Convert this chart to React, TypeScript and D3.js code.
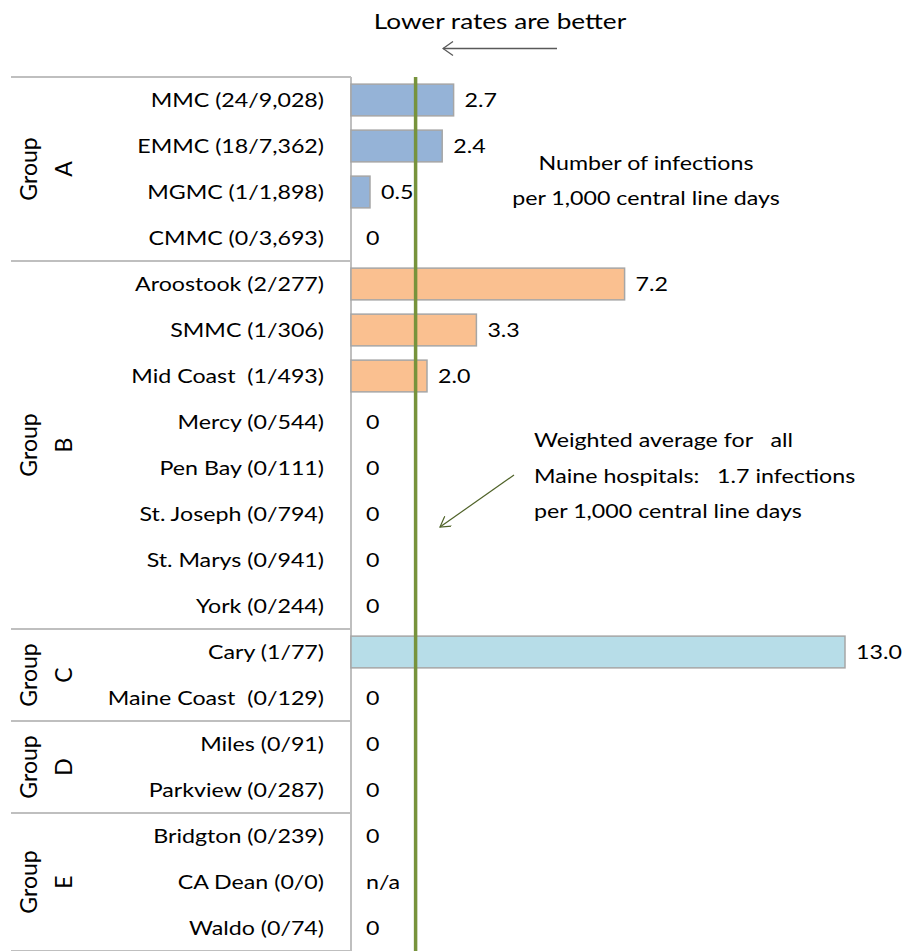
import React from 'react';
import * as d3 from 'd3';

const hospitals = [
  'MMC (24/9,028)', 'EMMC (18/7,362)', 'MGMC (1/1,898)', 'CMMC (0/3,693)',
  'Aroostook (2/277)', 'SMMC (1/306)', 'Mid Coast  (1/493)', 'Mercy (0/544)',
  'Pen Bay (0/111)', 'St. Joseph (0/794)', 'St. Marys (0/941)', 'York (0/244)',
  'Cary (1/77)', 'Maine Coast  (0/129)', 'Miles (0/91)', 'Parkview (0/287)',
  'Bridgton (0/239)', 'CA Dean (0/0)', 'Waldo (0/74)'
];
const rates: (number | null)[] = [
  2.7, 2.4, 0.5, 0,
  7.2, 3.3, 2.0, 0, 0, 0, 0, 0,
  13.0, 0,
  0, 0,
  0, null, 0
];
const groupNames = ['A', 'B', 'C', 'D', 'E'];
const groupSizes = [4, 8, 2, 2, 3];
const groupColors = ['#95b3d7', '#fac090', '#b7dde8', '#b7dde8', '#b7dde8'];
const average = 1.7;

const W = 911;
const H = 951;
const font = 'Lato, "Open Sans", sans-serif';
const SX = 1.19; // reference text is a bit wide, stretch glyphs horizontally

// text stretched horizontally around its anchor point
const T = ({ x, y, size = 19.5, anchor = 'start', dy = '0', children }: any) => (
  <text transform={`translate(${x},${y}) scale(${SX},1)`} textAnchor={anchor} dy={dy}
    fontSize={size} fill="#000" style={{ whiteSpace: 'pre' }}>{children}</text>
);

const App = () => {
  const y = d3.scaleBand<string>()
    .domain(hospitals)
    .range([77, 951])
    .paddingInner(0.31)
    .paddingOuter(0.155);
  const x = d3.scaleLinear().domain([0, 13]).range([351, 845]);

  const groupOf: number[] = [];
  groupSizes.forEach((n, g) => { for (let i = 0; i < n; i++) groupOf.push(g); });

  const starts = Array.from(d3.cumsum([0, ...groupSizes]));
  const step = y.step();
  const top = 77;
  const fmt = (v: number | null) => (v === null ? 'n/a' : v === 0 ? '0' : v.toFixed(1));
  const mid = (h: string) => (y(h) as number) + y.bandwidth() / 2;

  return (
    <svg width={W} height={H} style={{ position: 'absolute', left: 0, top: 0 }} fontFamily={font}>
      <defs>
        <marker id="arrGray" viewBox="0 0 12 16" refX="11" refY="8" markerWidth="12" markerHeight="16" orient="auto" markerUnits="userSpaceOnUse">
          <path d="M1,1 L11,8 L1,15" fill="none" stroke="#595959" strokeWidth="1.3" />
        </marker>
        <marker id="arrGreen" viewBox="0 0 12 12" refX="11" refY="6" markerWidth="12" markerHeight="12" orient="auto" markerUnits="userSpaceOnUse">
          <path d="M1,0 L11,6 L1,12" fill="none" stroke="#4f6228" strokeWidth="1.2" />
        </marker>
      </defs>

      <T x={500} y={29} size={22} anchor="middle">Lower rates are better</T>
      <line x1={557} x2={443} y1={48.5} y2={48.5} stroke="#595959" strokeWidth={1.4} markerEnd="url(#arrGray)" />

      {/* group separators */}
      {starts.map((s, i) => (
        <line key={'sep' + i} x1={11} x2={x(0)} y1={top + s * step} y2={top + s * step} stroke="#bfbfbf" strokeWidth={2} />
      ))}
      <line x1={x(0)} x2={x(0)} y1={top} y2={H} stroke="#bfbfbf" strokeWidth={2} />

      {/* group labels */}
      {groupNames.map((g, i) => {
        const cy = top + ((starts[i] + starts[i + 1]) / 2) * step;
        return (
          <g key={'g' + g} fontSize={23} fill="#000">
            <text transform={`translate(37,${cy}) rotate(-90)`} textAnchor="middle">Group</text>
            <text transform={`translate(72,${cy}) rotate(-90)`} textAnchor="middle">{g}</text>
          </g>
        );
      })}

      {/* bars */}
      {hospitals.map((h, i) => {
        const v = rates[i];
        if (!v) return null;
        return (
          <rect key={'b' + h} x={x(0)} y={y(h)} width={x(v) - x(0)} height={y.bandwidth()}
            fill={groupColors[groupOf[i]]} stroke="#a6a6a6" strokeWidth={1.5} />
        );
      })}

      {/* hospital labels */}
      {hospitals.map((h) => (
        <T key={'l' + h} x={324} y={mid(h)} dy="0.36em" anchor="end">{h}</T>
      ))}

      {/* value labels */}
      {hospitals.map((h, i) => {
        const v = rates[i];
        return (
          <T key={'v' + h} x={x(v || 0) + (v ? 11 : 15)} y={mid(h)} dy="0.36em">{fmt(v)}</T>
        );
      })}

      {/* average line */}
      <line x1={x(average)} x2={x(average)} y1={top} y2={H} stroke="#77933c" strokeWidth={3.5} />

      <T x={646} y={170} anchor="middle">Number of infections</T>
      <T x={646} y={205} anchor="middle">per 1,000 central line days</T>

      <T x={534} y={447}>Weighted average for   all</T>
      <T x={534} y={483}>Maine hospitals:   1.7 infections</T>
      <T x={534} y={518}>per 1,000 central line days</T>
      <line x1={514} y1={475} x2={440} y2={527} stroke="#4f6228" strokeWidth={1.2} markerEnd="url(#arrGreen)" />
    </svg>
  );
};

export default App;
